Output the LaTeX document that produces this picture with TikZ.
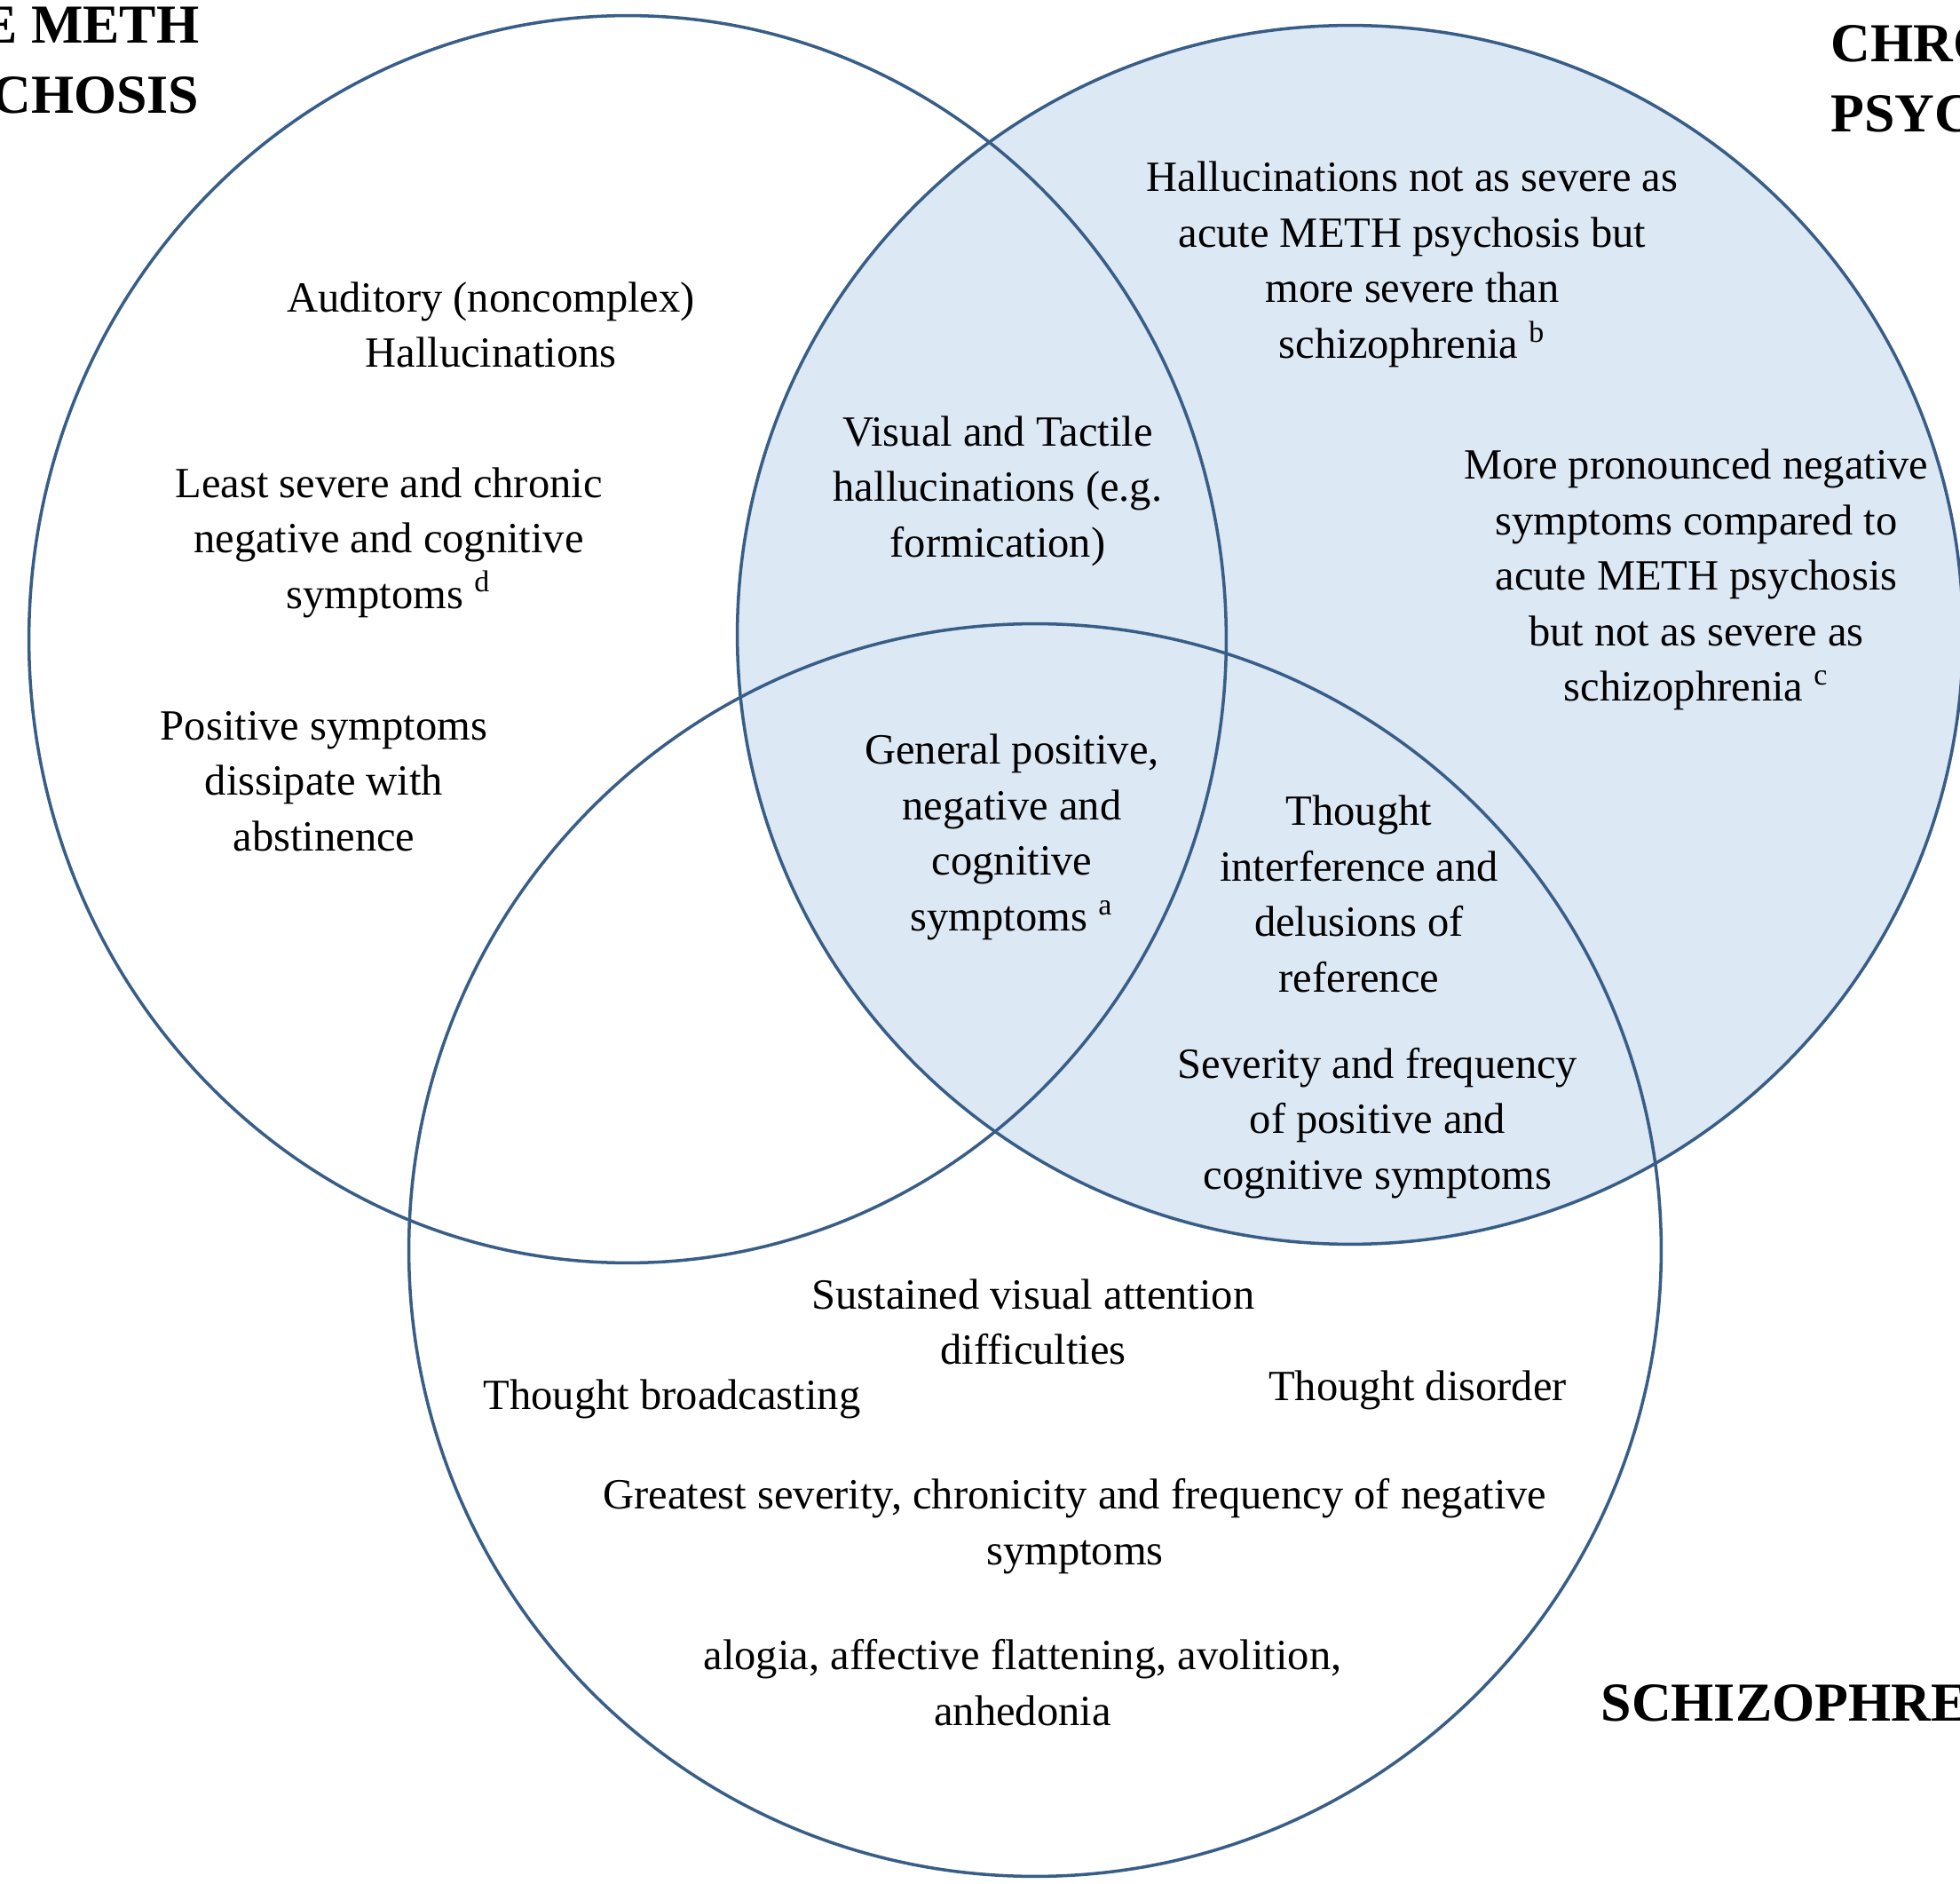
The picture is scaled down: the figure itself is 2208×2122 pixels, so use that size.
\documentclass[tikz,border=0pt]{standalone}
\usepackage{fontspec}
\setmainfont{Liberation Serif}
\usetikzlibrary{positioning}
\definecolor{RingBlue}{HTML}{385E88}
\definecolor{FillBlue}{HTML}{DDE8F5}

\begin{document}
\begin{tikzpicture}[x=0.01cm, y=-0.01cm,
    ring/.style={draw=RingBlue, line width=1pt},
    txt/.style={align=center, inner sep=0pt, font=\fontsize{13.8}{17.8}\selectfont},
    head/.style={inner sep=0pt, font=\fontsize{17.6}{22.5}\selectfont\bfseries},
  ]
    \useasboundingbox (0,0) rectangle (2208,2122);
    \clip (0,0) rectangle (2208,2122);
    \fill[white] (0,0) rectangle (2208,2122);
    % chronic circle is the shaded one
    \fill[FillBlue] (1521,715) ellipse [x radius=6.9cm, y radius=6.86cm];
    \draw[ring] (707,720)  ellipse [x radius=6.74cm, y radius=7.02cm];
    \draw[ring] (1521,715) ellipse [x radius=6.9cm, y radius=6.86cm];
    \draw[ring] (1166,1408) ellipse [x radius=7.05cm, y radius=7.05cm];
    % set titles
    \node[head, align=right, anchor=north east] (acute) at (225,7) {E METH\\CHOSIS};
    \node[head, align=left, anchor=north west] (chronic) at (2062,28) {CHRO\\PSYC};
    \node[head, anchor=west] (schizo) at (1803,1918) {SCHIZOPHRE};
    % acute only
    \node[txt] (audit) at (553,366) {Auditory (noncomplex)\\Hallucinations};
    \node[txt] (least) at (438,611) {Least severe and chronic\\negative and cognitive\\symptoms \textsuperscript{d}};
    \node[txt] (posit) at (365,880) {Positive symptoms\\dissipate with\\abstinence};
    % overlaps
    \node[txt] (visual) at (1124,553) {Visual and Tactile\\hallucinations (e.g.\\formication)};
    \node[txt] (general) at (1140,943) {General positive,\\negative and\\cognitive\\symptoms \textsuperscript{a}};
    \node[txt] (interf) at (1531,1007) {Thought\\interference and\\delusions of\\reference};
    \node[txt] (sever) at (1552,1265) {Severity and frequency\\of positive and\\cognitive symptoms};
    % chronic only
    \node[txt] (halluc) at (1591,298) {Hallucinations not as severe as\\acute METH psychosis but\\more severe than\\schizophrenia \textsuperscript{b}};
    \node[txt] (pronou) at (1911,653) {More pronounced negative\\symptoms compared to\\acute METH psychosis\\but not as severe as\\schizophrenia \textsuperscript{c}};
    % schizophrenia only
    \node[txt] (sustain) at (1164,1489) {Sustained visual attention\\difficulties};
    \node[txt] (broad) at (757,1576) {Thought broadcasting};
    \node[txt] (disord) at (1597,1566) {Thought disorder};
    \node[txt] (great) at (1211,1719) {Greatest severity, chronicity and frequency of negative\\symptoms};
    \node[txt] (alogia) at (1152,1895) {alogia, affective flattening, avolition,\\anhedonia};
\end{tikzpicture}
\end{document}
